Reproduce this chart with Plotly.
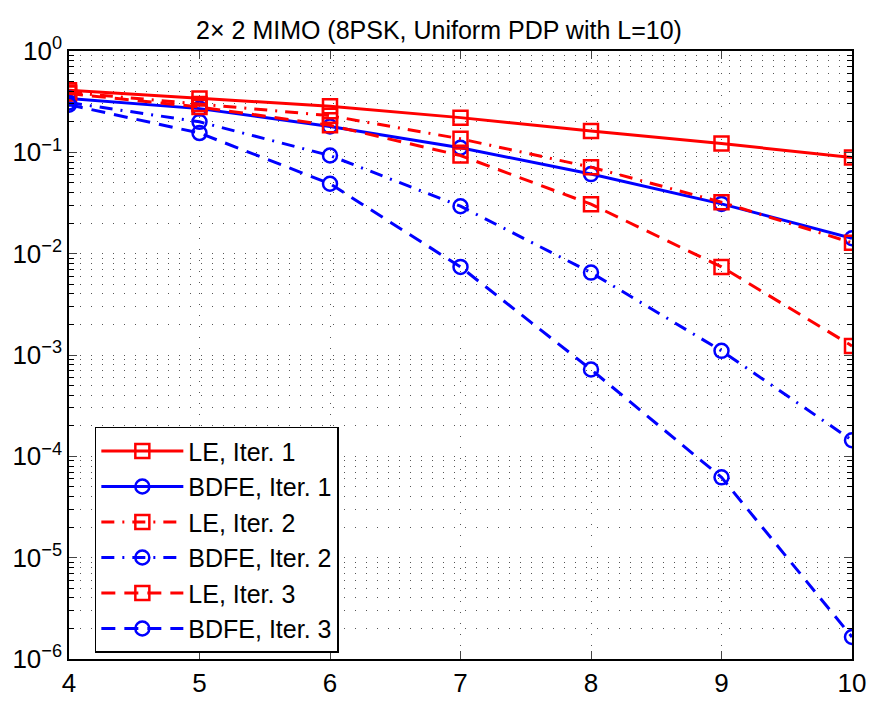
import plotly.graph_objects as go

snr = [4, 5, 6, 7, 8, 9, 10]
le_iter1 = [0.41, 0.34, 0.285, 0.22, 0.162, 0.122, 0.089]
bdfe_iter1 = [0.34, 0.27, 0.18, 0.111, 0.061, 0.031, 0.0142]
le_iter2 = [0.39, 0.30, 0.23, 0.136, 0.0714, 0.0322, 0.0128]
bdfe_iter2 = [0.31, 0.20, 0.093, 0.0294, 0.0065, 0.0011, 0.000144]
le_iter3 = [0.38, 0.28, 0.185, 0.093, 0.0308, 0.0074, 0.00123]
bdfe_iter3 = [0.295, 0.155, 0.049, 0.0074, 0.00072, 6.2e-5, 1.65e-6]

names = ["LE, Iter. 1", "BDFE, Iter. 1", "LE, Iter. 2", "BDFE, Iter. 2", "LE, Iter. 3", "BDFE, Iter. 3"]
series = [le_iter1, bdfe_iter1, le_iter2, bdfe_iter2, le_iter3, bdfe_iter3]
colors = ["#ff0000", "#0000ff"] * 3
symbols = ["square-open", "circle-open"] * 3
dashes = ["solid", "solid", "13px,8px,2px,8px", "13px,8px,2px,8px", "14px,9px", "14px,9px"]

y_tickvals = [1, 0.1, 0.01, 0.001, 1e-4, 1e-5, 1e-6]
y_ticktext = ["10<sup>0</sup>", "10<sup>\u22121</sup>", "10<sup>\u22122</sup>", "10<sup>\u22123</sup>",
              "10<sup>\u22124</sup>", "10<sup>\u22125</sup>", "10<sup>\u22126</sup>"]

FONT = "Liberation Sans, Arial, Helvetica, sans-serif"

fig = go.Figure()
for name, ys, c, s, d in zip(names, series, colors, symbols, dashes):
    fig.add_trace(go.Scatter(
        x=snr, y=ys, name=name, mode="lines+markers",
        line=dict(color=c, width=3, dash=d),
        marker=dict(symbol=s, size=14, color=c, line=dict(color=c, width=2.5)),
    ))

grid = dict(gridcolor="#555555", gridwidth=1, griddash="1px,10px")

fig.update_layout(
    width=878, height=710,
    margin=dict(l=67, r=18, t=51, b=36),
    paper_bgcolor="white", plot_bgcolor="white",
    font=dict(family=FONT, size=26, color="black"),
    title=dict(text="2\u00d7 2 MIMO (8PSK, Uniform PDP with L=10)", x=0.5, xanchor="center",
               y=0.957, yanchor="middle", font=dict(size=25, family=FONT)),
    showlegend=True,
    legend=dict(x=0.033, y=0.382, xanchor="left", yanchor="top",
                bgcolor="white", bordercolor="black", borderwidth=1.5,
                font=dict(size=25, family=FONT), itemwidth=82,
                tracegroupgap=0, itemsizing="trace"),
    xaxis=dict(range=[4, 10], tickvals=snr, ticks="inside", ticklen=8, tickwidth=1,
               showline=True, linecolor="black", linewidth=1.5, mirror="allticks",
               showgrid=True, zeroline=False, tickfont=dict(size=26), **grid),
    yaxis=dict(type="log", range=[-6, 0], tickvals=y_tickvals, ticktext=y_ticktext,
               ticks="inside", ticklen=8, tickwidth=1,
               showline=True, linecolor="black", linewidth=1.5, mirror="allticks",
               showgrid=True, zeroline=False, tickfont=dict(size=26),
               minor=dict(dtick="D1", ticks="inside", ticklen=5, tickcolor="black",
                          showgrid=True, gridcolor="#555555", gridwidth=1, griddash="1px,10px"),
               **grid),
)

fig.write_html("out.html")
